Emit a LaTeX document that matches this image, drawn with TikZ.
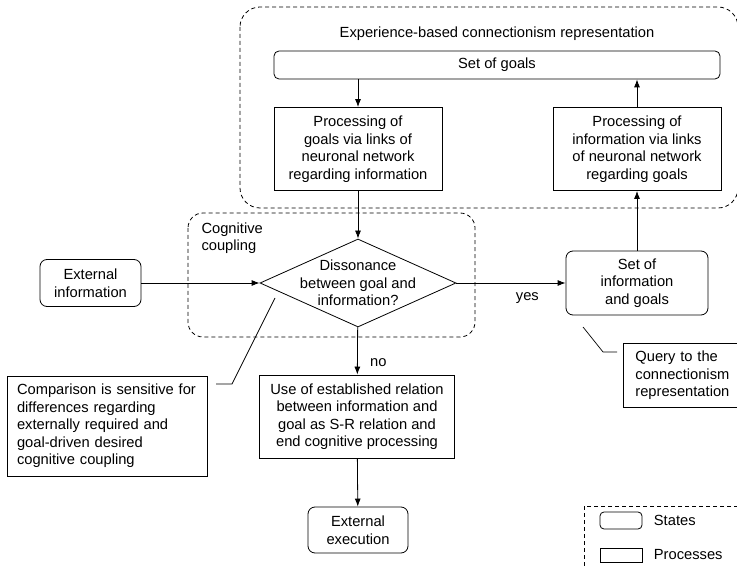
\documentclass[tikz,border=0pt]{standalone}
\usepackage{fontspec}
\setmainfont{Liberation Sans}
\usepackage{tikz}
\usetikzlibrary{shapes.geometric, arrows.meta, positioning, calc}

\begin{document}
\begin{tikzpicture}[
  x=1pt, y=-1pt,
  font=\fontsize{14.7}{17.5}\selectfont,
  state/.style={rectangle, draw, rounded corners=7pt, align=center, line width=0.8pt},
  process/.style={rectangle, draw, align=center, line width=0.8pt},
  decision/.style={diamond, draw, minimum width=196pt, minimum height=88pt, inner sep=0pt, line width=0.8pt},
  note/.style={rectangle, draw, align=left, line width=0.8pt},
  group/.style={draw, dash pattern=on 4pt off 3pt, rounded corners=20pt, line width=0.8pt},
  arrow/.style={-{Latex[length=8pt,width=6pt]}, line width=0.8pt},
  callout/.style={line width=0.7pt}
]
\useasboundingbox (0,0) rectangle (737,569);
\clip (0,0) rectangle (737,569);

% dashed groups
\draw[group] (240,7) rectangle (738,208);
\draw[group, rounded corners=15pt] (188,213) rectangle (475,337);
\node (reptitle) at (497,34) {Experience-based connectionism representation};
\node[align=left, anchor=north west] (coupling) at (198,219) {Cognitive\\coupling};

% connectionism representation
\node[state, minimum width=446pt, minimum height=28pt, rounded corners=5pt] (goals) at (497,65) {Set of goals};
\node[process, minimum width=168pt, minimum height=83pt] (procgoals) at (358,149) {Processing of\\goals via links of\\neuronal network\\regarding information};
\node[process, minimum width=168pt, minimum height=83pt] (procinfo) at (637,149) {Processing of\\information via links\\of neuronal network\\regarding goals};

% cognitive coupling
\node[decision, label={[align=center]center:Dissonance\\between goal and\\information?}] (dissonance) at (358,283) {};
\node[state, minimum width=101pt, minimum height=47pt] (extinfo) at (90.5,283) {External\\information};
\node[state, minimum width=142pt, minimum height=64pt] (infogoals) at (637,283) {Set of\\information\\and goals};
\node[process, minimum width=195pt, minimum height=83pt] (useest) at (357,416.5) {Use of established relation\\between information and\\goal as S-R relation and\\end cognitive processing};
\node[state, minimum width=100pt, minimum height=46pt] (extexec) at (358,530) {External\\execution};

% notes
\node[note, text width=180pt, inner xsep=10pt, minimum height=100pt] (comparison) at (107,426) {Comparison is sensitive for\\differences regarding\\externally required and\\goal-driven desired\\cognitive coupling};
\node[note, text width=120pt, inner xsep=12pt, minimum height=64pt, anchor=north west] (query) at (623,343) {Query to the\\connectionism\\representation};

% legend
\draw[group, rounded corners=0pt] (584,506) rectangle (770,600);
\node[state, minimum width=42pt, minimum height=17pt, rounded corners=4pt] (legstate) at (621,520.5) {};
\node[right=8pt of legstate] (legstatetext) {States};
\node[process, minimum width=42pt, minimum height=14pt] (legproc) at (621,555) {};
\node[right=8pt of legproc] (legproctext) {Processes};

% arrows
\draw[arrow] (procgoals.north |- goals.south) -- (procgoals.north);
\draw[arrow] (procinfo.north) -- (procinfo.north |- goals.south);
\draw[arrow] (procgoals) -- (dissonance);
\draw[arrow] (extinfo) -- (dissonance);
\draw[arrow] (dissonance) -- node[pos=0.65, below=6pt] {yes} (infogoals);
\draw[arrow] (infogoals) -- (procinfo);
\draw[arrow] (dissonance) -- node[pos=0.75, right=9pt] {no} (useest);
\draw[arrow] (useest) -- (extexec);

% callouts
\coordinate (qtip) at (583,327);
\coordinate (qbend) at (603,352);
\coordinate (qend) at (617,352);
\draw[callout] (qtip) -- (qbend) -- (qend);
\coordinate (ctip) at (275,298);
\coordinate (cbend) at (232,384);
\coordinate (cend) at (216,384);
\draw[callout] (ctip) -- (cbend) -- (cend);
\end{tikzpicture}
\end{document}
